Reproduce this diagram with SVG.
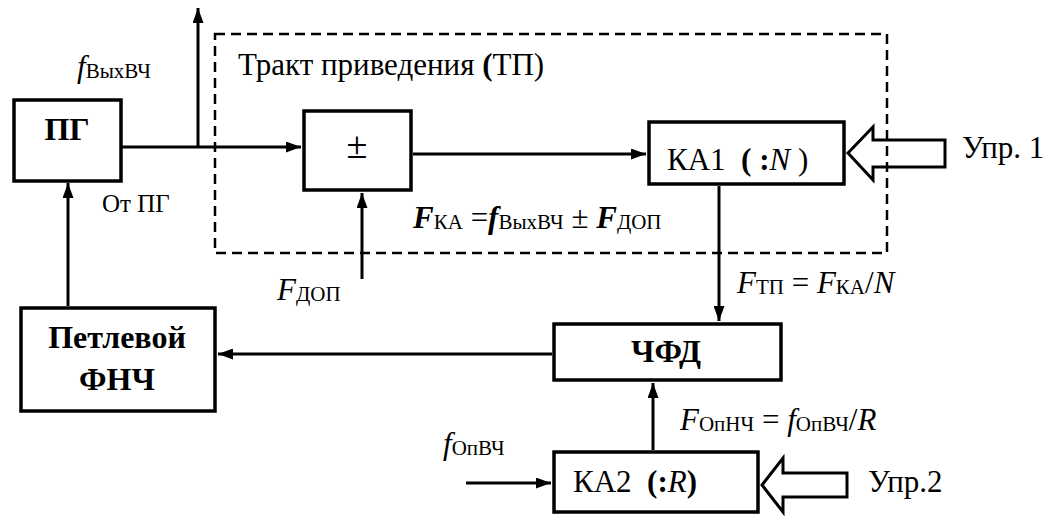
<svg xmlns="http://www.w3.org/2000/svg" width="1048" height="516" viewBox="0 0 1048 516">
<style>
  .box{fill:#fff;stroke:#000;stroke-width:3.5}
  .ln{fill:none;stroke:#000;stroke-width:3}
  .hol{fill:none;stroke:#000;stroke-width:3;stroke-linejoin:miter}
  .dash{fill:none;stroke:#000;stroke-width:2.5;stroke-dasharray:10 6}
  text{font-family:"Liberation Serif","Times New Roman","DejaVu Serif",serif;fill:#000}
  .t{font-size:31px}
  .b{font-size:32px;font-weight:bold}
  .s{font-size:21px}
  .i{font-style:italic}
  .bi{font-style:italic;font-weight:bold}
  .sm{font-size:25px}
</style>
<defs>
  <marker id="ah" markerUnits="userSpaceOnUse" markerWidth="15" markerHeight="11" refX="15" refY="5.5" orient="auto">
    <path d="M0,0 L15,5.5 L0,11 z" fill="#000"/>
  </marker>
</defs>
<rect class="dash" x="215" y="34" width="672" height="219"/>
<text class="t" x="238" y="75">Тракт приведения <tspan font-weight="bold">(</tspan>ТП)</text>
<g id="connectors">
  <line class="ln" x1="122" y1="147" x2="301" y2="147" marker-end="url(#ah)"/>
  <line class="ln" x1="198" y1="147" x2="198" y2="8" marker-end="url(#ah)"/>
  <line class="ln" x1="413" y1="154" x2="646" y2="154" marker-end="url(#ah)"/>
  <line class="ln" x1="362" y1="279" x2="362" y2="193" marker-end="url(#ah)"/>
  <line class="ln" x1="719" y1="186" x2="719" y2="321" marker-end="url(#ah)"/>
  <line class="ln" x1="552" y1="354" x2="218" y2="354" marker-end="url(#ah)"/>
  <line class="ln" x1="653" y1="450" x2="653" y2="383" marker-end="url(#ah)"/>
  <line class="ln" x1="466" y1="483" x2="551" y2="483" marker-end="url(#ah)"/>
  <line class="ln" x1="68" y1="306" x2="68" y2="183" marker-end="url(#ah)"/>
  <polygon class="hol" points="848,153 873,127 873,140 945,140 945,167 873,167 873,180"/>
  <polygon class="hol" points="762,485 783,458 783,473 847,473 847,497 783,497 783,512"/>
</g>
<g id="pg">
  <rect class="box" x="14" y="100" width="107" height="81"/>
  <text class="b" x="67" y="140" text-anchor="middle">ПГ</text>
</g>
<g id="sum">
  <rect class="box" x="304" y="111" width="107" height="79"/>
  <text x="357" y="158" font-size="38" text-anchor="middle">±</text>
</g>
<g id="ka1">
  <rect class="box" x="649" y="122" width="195" height="62"/>
  <text class="t" x="667" y="170" xml:space="preserve">КА1  <tspan font-weight="bold">( :</tspan><tspan class="i">N</tspan> )</text>
</g>
<g id="chfd">
  <rect class="box" x="554" y="324" width="227" height="56"/>
  <text class="b" x="666" y="362" text-anchor="middle">ЧФД</text>
</g>
<g id="fnch">
  <rect class="box" x="21" y="308" width="194" height="103"/>
  <text class="b" x="117" y="348" text-anchor="middle">Петлевой</text>
  <text class="b" x="117" y="390" text-anchor="middle">ФНЧ</text>
</g>
<g id="ka2">
  <rect class="box" x="554" y="452" width="204" height="60"/>
  <text class="t" x="573" y="492" xml:space="preserve">КА2  <tspan font-weight="bold">(:</tspan><tspan class="i">R</tspan><tspan font-weight="bold">)</tspan></text>
</g>
<g id="labels">
  <text class="t" x="77" y="77"><tspan class="i">f</tspan><tspan class="s" dy="1">ВыхВЧ</tspan></text>
  <text class="sm" x="102" y="212">От ПГ</text>
  <text class="t" x="277" y="300"><tspan class="i">F</tspan><tspan class="s" dy="1">ДОП</tspan></text>
  <text class="t" x="413" y="228"><tspan class="bi">F</tspan><tspan class="s" dy="1">КА</tspan><tspan dy="-1"> =</tspan><tspan class="bi">f</tspan><tspan class="s" dy="1">ВыхВЧ</tspan><tspan dy="-1"> ± </tspan><tspan class="bi">F</tspan><tspan class="s" dy="1">ДОП</tspan></text>
  <text class="t" x="737" y="293"><tspan class="i">F</tspan><tspan class="s" dy="1">ТП</tspan><tspan dy="-1"> = </tspan><tspan class="i">F</tspan><tspan class="s" dy="1">КА</tspan><tspan dy="-1">/</tspan><tspan class="i">N</tspan></text>
  <text class="t" x="680" y="430"><tspan class="i">F</tspan><tspan class="s" dy="1">ОпНЧ</tspan><tspan dy="-1"> = </tspan><tspan class="i">f</tspan><tspan class="s" dy="1">ОпВЧ</tspan><tspan dy="-1">/</tspan><tspan class="i">R</tspan></text>
  <text class="t" x="443" y="454"><tspan class="i">f</tspan><tspan class="s" dy="1">ОпВЧ</tspan></text>
  <text class="t" x="962" y="158">Упр. 1</text>
  <text class="t" x="868" y="492">Упр.2</text>
</g>
</svg>
